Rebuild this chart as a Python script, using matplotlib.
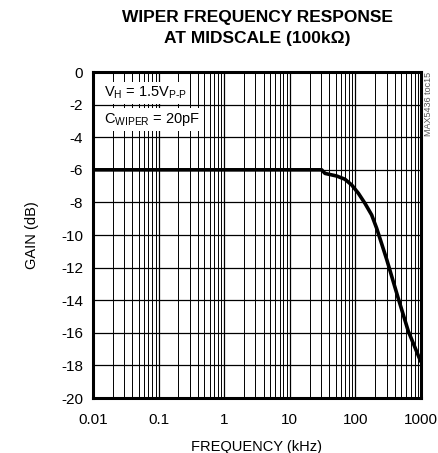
import numpy as np
import matplotlib
matplotlib.use("Agg")
import matplotlib.pyplot as plt
from matplotlib.ticker import LogLocator, FixedLocator, NullFormatter

plt.rcParams['font.family'] = ['Liberation Sans', 'DejaVu Sans']
plt.rcParams['mathtext.fontset'] = 'custom'
plt.rcParams['mathtext.rm'] = 'Liberation Sans'
plt.rcParams['mathtext.it'] = 'Liberation Sans'

# wiper response
freq_khz = [0.01, 30.6, 34.4, 51.9, 69.4, 87.8, 111, 140, 177, 211, 252, 300, 451, 640, 1000]
gain_db = [-6.0, -6.0, -6.22, -6.38, -6.58, -6.93, -7.44, -8.06, -8.77, -9.59, -10.55, -11.5, -13.9, -15.9, -17.8]

x_ticks = [0.01, 0.1, 1, 10, 100, 1000]
x_labels = ['0.01', '0.1', '1', '10', '100', '1000']
y_ticks = list(range(-20, 1, 2))

fig = plt.figure(figsize=(4.38, 4.53), dpi=100)
ax = fig.add_axes([0.2123, 0.1214, 0.7489, 0.7196])

ax.plot(freq_khz, gain_db, color='black', linewidth=2.6, zorder=3,
        solid_joinstyle='round', solid_capstyle='butt')

ax.set_xscale('log')
ax.set_xlim(0.01, 1000)
ax.set_ylim(-20, 0)
ax.xaxis.set_major_locator(FixedLocator(x_ticks))
ax.set_xticklabels(x_labels)
ax.xaxis.set_minor_locator(LogLocator(base=10, subs=np.arange(2, 10)))
ax.xaxis.set_minor_formatter(NullFormatter())
ax.set_yticks(y_ticks)
ax.set_yticklabels([str(v) for v in y_ticks])
ax.tick_params(which='both', length=0, labelsize=11, pad=7)
ax.tick_params(axis='x', pad=11)

ax.grid(True, which='major', color='black', linewidth=0.9)
ax.grid(True, which='minor', axis='x', color='black', linewidth=0.7)
for s in ax.spines.values():
    s.set_linewidth(2.2)

ax.set_xlabel('FREQUENCY (kHz)', fontsize=10.5, labelpad=9)
ax.set_ylabel('GAIN (dB)', fontsize=10.5, labelpad=16)
ax.set_title('WIPER FREQUENCY RESPONSE\nAT MIDSCALE (100k\u03a9)', fontsize=12.5,
             fontweight='bold', linespacing=1.45, pad=21)

box = dict(facecolor='white', edgecolor='none', pad=2)
ax.text(0.035, 0.935, r'V$_{\mathrm{H}}$ = 1.5V$_{\mathrm{P\text{-}P}}$', transform=ax.transAxes,
        fontsize=10.5, va='center', ha='left', bbox=box, zorder=4)
ax.text(0.035, 0.855, r'C$_{\mathrm{WIPER}}$ = 20pF', transform=ax.transAxes,
        fontsize=10.5, va='center', ha='left', bbox=box, zorder=4)

fig.text(0.978, 0.841, 'MAX5436 toc15', rotation=90, fontsize=6.5, color='#555555',
         va='top', ha='center')

fig.savefig('out.png', dpi=100)
